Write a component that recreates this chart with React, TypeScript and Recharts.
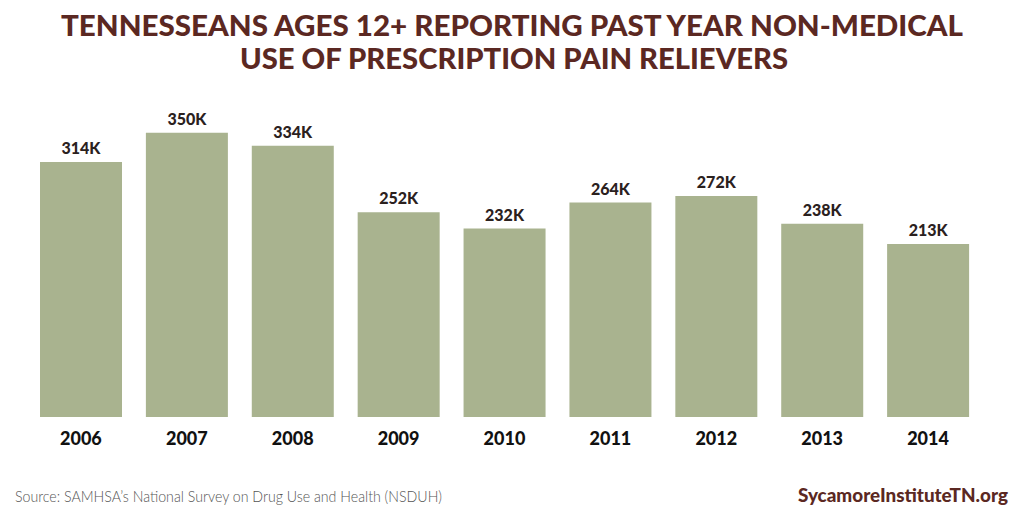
import { Bar, BarChart, LabelList, XAxis, YAxis } from 'recharts';

const years = ['2006', '2007', '2008', '2009', '2010', '2011', '2012', '2013', '2014'];
const users = [314, 350, 334, 252, 232, 264, 272, 238, 213];
const titleLines = [
  'TENNESSEANS AGES 12+ REPORTING PAST YEAR NON-MEDICAL',
  'USE OF PRESCRIPTION PAIN RELIEVERS',
];
const sourceText = 'Source: SAMHSA\u2019s National Survey on Drug Use and Health (NSDUH)';
const brandText = 'SycamoreInstituteTN.org';

const data = years.map((year, i) => ({ year, users: users[i] }));

const maroon = '#5b2822';
const barColor = '#a9b38f';

function YearTick({ x, y, payload }: any) {
  return (
    <text
      x={x}
      y={y + 28}
      textAnchor="middle"
      fontFamily="Lato, sans-serif"
      fontWeight={900}
      fontSize={18}
      fill="#111"
    >
      {payload.value}
    </text>
  );
}

export default function App() {
  return (
    <div style={{ position: 'fixed', top: 0, left: 0, width: 1024, height: 512, background: '#fff' }}>
      <BarChart
        width={1024}
        height={512}
        data={data}
        barSize={82}
        margin={{ top: 92, right: 43, bottom: 65, left: 28 }}
      >
        <XAxis
          dataKey="year"
          axisLine={false}
          tickLine={false}
          tickSize={0}
          tickMargin={0}
          height={30}
          interval={0}
          tick={<YearTick />}
        />
        <YAxis hide domain={[0, 400]} />
        <Bar dataKey="users" fill={barColor} isAnimationActive={false}>
          <LabelList
            dataKey="users"
            position="top"
            offset={8}
            formatter={(v: any) => `${v}K`}
            style={{ fontFamily: 'Lato, sans-serif', fontWeight: 900, fontSize: 16, fill: '#2b211e' }}
          />
        </Bar>
      </BarChart>
      <svg width={1024} height={512} style={{ position: 'absolute', top: 0, left: 0, pointerEvents: 'none' }}>
        <text
          x={512}
          y={36}
          textAnchor="middle"
          textLength={902}
          lengthAdjust="spacingAndGlyphs"
          fontFamily="Lato, sans-serif"
          fontWeight={900}
          fontSize={28}
          fill={maroon}
        >
          {titleLines[0]}
        </text>
        <text
          x={514}
          y={69}
          textAnchor="middle"
          textLength={548}
          lengthAdjust="spacingAndGlyphs"
          fontFamily="Lato, sans-serif"
          fontWeight={900}
          fontSize={28}
          fill={maroon}
        >
          {titleLines[1]}
        </text>
        <text
          x={15}
          y={502}
          textLength={427}
          lengthAdjust="spacingAndGlyphs"
          fontFamily="Lato, sans-serif"
          fontWeight={300}
          fontSize={15}
          fill="#555"
        >
          {sourceText}
        </text>
        <text
          x={1008}
          y={502}
          textAnchor="end"
          textLength={210}
          lengthAdjust="spacingAndGlyphs"
          fontFamily="Lato, sans-serif"
          fontWeight={900}
          fontSize={18}
          fill={maroon}
        >
          {brandText}
        </text>
      </svg>
    </div>
  );
}
